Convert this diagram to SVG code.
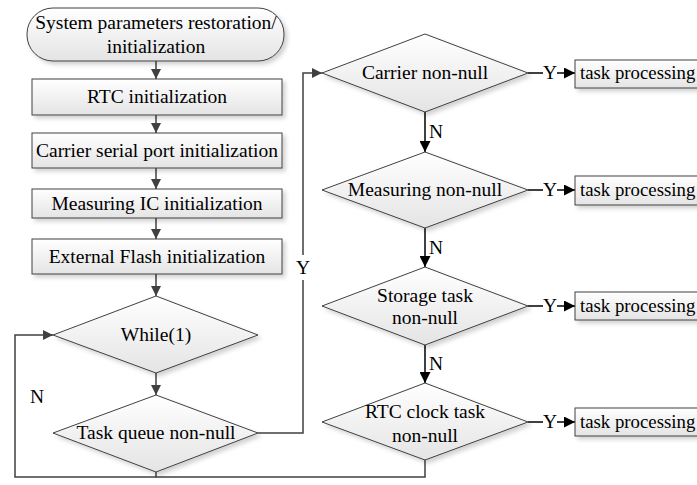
<svg xmlns="http://www.w3.org/2000/svg" width="697" height="485" viewBox="0 0 697 485">
  <defs>
    <linearGradient id="fillGrad" x1="0" y1="0" x2="0" y2="1">
      <stop offset="0" stop-color="#ffffff"/>
      <stop offset="1" stop-color="#e4e4e4"/>
    </linearGradient>
    <filter id="shadow" x="-10%" y="-20%" width="125%" height="150%">
      <feDropShadow dx="3" dy="3" stdDeviation="2" flood-color="#000" flood-opacity="0.18"/>
    </filter>
    <marker id="arrGray" viewBox="0 0 10 10" refX="10" refY="5" markerWidth="10" markerHeight="10" markerUnits="userSpaceOnUse" orient="auto">
      <path d="M0,0 L10,5 L0,10 Z" fill="#404040"/>
    </marker>
    <marker id="arrBlack" viewBox="0 0 10 10" refX="10" refY="5" markerWidth="11" markerHeight="11" markerUnits="userSpaceOnUse" orient="auto">
      <path d="M0,0 L10,5 L0,10 Z" fill="#000"/>
    </marker>
  </defs>
  <style>
    .shape { fill: url(#fillGrad); stroke: #404040; stroke-width: 1; filter: url(#shadow); }
    .t { font-family: "Liberation Serif", "Times New Roman", serif; font-size: 19.5px; fill: #000; text-anchor: middle; }
    .ts { font-family: "Liberation Serif", "Times New Roman", serif; font-size: 19.5px; fill: #000; }
    .tp { font-family: "Liberation Serif", "Times New Roman", serif; font-size: 18.8px; fill: #000; }
    .cg { fill: none; stroke: #404040; stroke-width: 1.5; }
    .cb { fill: none; stroke: #000; stroke-width: 1.5; }
  </style>
  <rect width="697" height="485" fill="#fff"/>

  <!-- Connectors -->
  <g id="connectors">
    <line class="cg" x1="156" y1="61" x2="156" y2="79" marker-end="url(#arrGray)"/>
    <line class="cg" x1="156" y1="115" x2="156" y2="133" marker-end="url(#arrGray)"/>
    <line class="cg" x1="156" y1="168" x2="156" y2="189" marker-end="url(#arrGray)"/>
    <line class="cg" x1="156" y1="218" x2="156" y2="239" marker-end="url(#arrGray)"/>
    <line class="cg" x1="156" y1="274" x2="156" y2="296" marker-end="url(#arrGray)"/>
    <line class="cg" x1="156" y1="373" x2="156" y2="395" marker-end="url(#arrGray)"/>
    <!-- N loop back to While(1) -->
    <polyline class="cg" points="156,472 156,477 15,477 15,335 53,335" marker-end="url(#arrGray)"/>
    <polyline class="cg" points="425,460 425,477 156,477"/>
    <!-- Y branch up to the carrier check -->
    <polyline class="cg" points="258,433 303,433 303,280"/>
    <polyline class="cg" points="303,255 303,73 322,73" marker-end="url(#arrGray)"/>
    <text class="t" x="303" y="274">Y</text>
    <text class="t" x="37" y="403">N</text>
    <!-- N chain -->
    <line class="cb" x1="425" y1="112" x2="425" y2="152" marker-end="url(#arrBlack)"/>
    <line class="cb" x1="425" y1="228" x2="425" y2="267" marker-end="url(#arrBlack)"/>
    <line class="cb" x1="425" y1="345" x2="425" y2="383" marker-end="url(#arrBlack)"/>
    <text class="ts" x="429" y="138">N</text>
    <text class="ts" x="429" y="254">N</text>
    <text class="ts" x="429" y="370">N</text>
    <!-- Y branches to task processing -->
    <line class="cb" x1="528" y1="73" x2="543" y2="73"/>
    <line class="cb" x1="557" y1="73" x2="575" y2="73" marker-end="url(#arrBlack)"/>
    <text class="t" x="550" y="79">Y</text>
    <line class="cb" x1="528" y1="190" x2="543" y2="190"/>
    <line class="cb" x1="557" y1="190" x2="575" y2="190" marker-end="url(#arrBlack)"/>
    <text class="t" x="550" y="196">Y</text>
    <line class="cb" x1="528" y1="306" x2="543" y2="306"/>
    <line class="cb" x1="557" y1="306" x2="575" y2="306" marker-end="url(#arrBlack)"/>
    <text class="t" x="550" y="312">Y</text>
    <line class="cb" x1="528" y1="422" x2="543" y2="422"/>
    <line class="cb" x1="557" y1="422" x2="575" y2="422" marker-end="url(#arrBlack)"/>
    <text class="t" x="550" y="428">Y</text>
  </g>

  <!-- Left column -->
  <g id="start">
    <rect class="shape" x="27" y="8" width="257" height="53" rx="26" ry="26"/>
    <text class="t" x="156" y="29">System parameters restoration/</text>
    <text class="t" x="156" y="53">initialization</text>
  </g>
  <g id="rtc-init">
    <rect class="shape" x="32" y="79" width="250" height="36"/>
    <text class="t" x="157" y="103">RTC initialization</text>
  </g>
  <g id="serial-init">
    <rect class="shape" x="32" y="133" width="250" height="35"/>
    <text class="t" x="157" y="157">Carrier serial port initialization</text>
  </g>
  <g id="measuring-init">
    <rect class="shape" x="32" y="189" width="250" height="29"/>
    <text class="t" x="157" y="210">Measuring IC initialization</text>
  </g>
  <g id="flash-init">
    <rect class="shape" x="32" y="239" width="250" height="35"/>
    <text class="t" x="157" y="263">External Flash initialization</text>
  </g>
  <g id="while-loop">
    <polygon class="shape" points="156,296 258,335 156,373 53,335"/>
    <text class="t" x="156" y="341">While(1)</text>
  </g>
  <g id="task-queue">
    <polygon class="shape" points="156,395 258,433 156,472 53,433"/>
    <text class="t" x="156" y="439">Task queue non-null</text>
  </g>

  <!-- Right column -->
  <g id="carrier-check">
    <polygon class="shape" points="425,34 528,73 425,112 322,73"/>
    <text class="t" x="425" y="79">Carrier non-null</text>
  </g>
  <g id="measuring-check">
    <polygon class="shape" points="425,152 528,190 425,228 322,190"/>
    <text class="t" x="425" y="196">Measuring non-null</text>
  </g>
  <g id="storage-check">
    <polygon class="shape" points="425,267 528,306 425,345 322,306"/>
    <text class="t" x="425" y="302">Storage task</text>
    <text class="t" x="425" y="324">non-null</text>
  </g>
  <g id="rtc-check">
    <polygon class="shape" points="425,383 528,422 425,460 322,422"/>
    <text class="t" x="425" y="418">RTC clock task</text>
    <text class="t" x="425" y="442">non-null</text>
  </g>
  <g id="task-1">
    <rect class="shape" x="575" y="60" width="140" height="28"/>
    <text class="tp" x="580" y="79">task processing</text>
  </g>
  <g id="task-2">
    <rect class="shape" x="575" y="176" width="140" height="29"/>
    <text class="tp" x="580" y="196">task processing</text>
  </g>
  <g id="task-3">
    <rect class="shape" x="575" y="292" width="140" height="28"/>
    <text class="tp" x="580" y="312">task processing</text>
  </g>
  <g id="task-4">
    <rect class="shape" x="575" y="408" width="140" height="28"/>
    <text class="tp" x="580" y="428">task processing</text>
  </g>
</svg>
